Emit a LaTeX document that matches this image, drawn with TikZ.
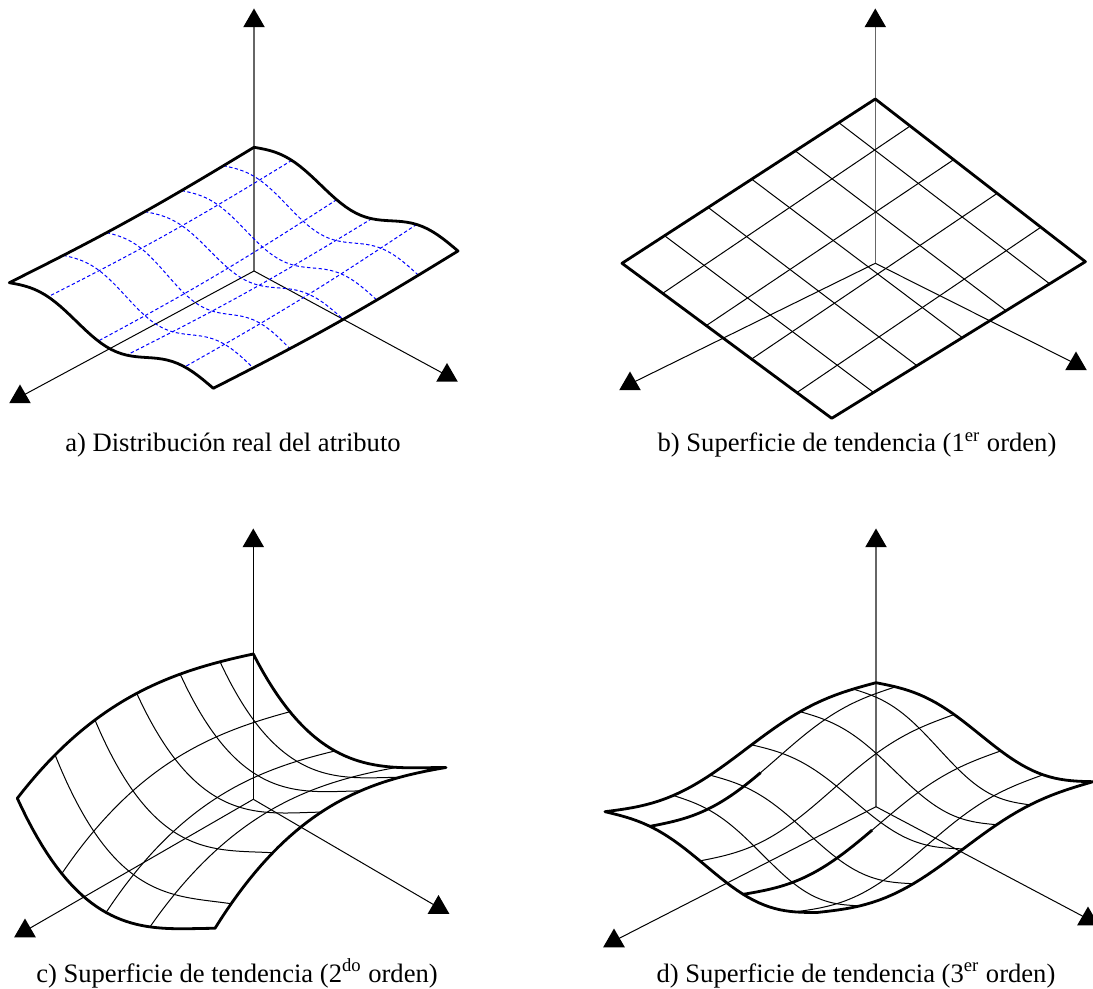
\documentclass[tikz,border=0pt]{standalone}
\usepackage{fontspec}
\setmainfont{Liberation Serif}
\usepackage{tikz}
\usetikzlibrary{shapes.geometric}

% contorno de la superficie (s: de B a L, t: de B a R)
\newcommand{\contorno}{%
    \draw[borde] plot[domain=0:1, samples=41, variable=\tv] ({sx(0,\tv)},{sy(0,\tv)})
        -- plot[domain=0:1, samples=41, variable=\sv] ({sx(\sv,1)},{sy(\sv,1)})
        -- plot[domain=1:0, samples=41, variable=\tv] ({sx(1,\tv)},{sy(1,\tv)})
        -- plot[domain=1:0, samples=41, variable=\sv] ({sx(\sv,0)},{sy(\sv,0)}) -- cycle;}

\begin{document}
\begin{tikzpicture}[
        x=0.5pt, y=-0.5pt,
        % Estilo para el borde de la superficie
        borde/.style={line width=1.4pt, line join=round},
        % Estilo para la malla
        malla/.style={line width=0.5pt},
        mallaazul/.style={line width=0.5pt, draw=blue, dash pattern=on 1.7pt off 1.2pt},
        % Estilo para los ejes
        eje/.style={line width=0.5pt},
        ejez/.style={line width=0.7pt, draw=black!60},
        punta/.style={regular polygon, regular polygon sides=3, fill=black,
            inner sep=0pt, minimum size=12.5pt},
        titulo/.style={anchor=base, font=\fontsize{13.3}{16}\selectfont},
        declare function={
            sx(\su,\tu)=\Bx+\su*(\Lx-\Bx)+\tu*(\Rx-\Bx)+\su*\tu*(\Fx-\Lx-\Rx+\Bx);
            sy(\su,\tu)=\By+\su*(\Ly-\By)+\tu*(\Ry-\By)+\su*\tu*(\Fy-\Ly-\Ry+\By)+dz(\su,\tu);
        }
    ]
    \useasboundingbox (0,0) rectangle (1093,989);

    % a) Distribución real del atributo
    \begin{scope}[declare function={dz(\su,\tu)=-9*sin(540*\tu)+5*sin(180*\tu)+4*sin(180*\su);}]
        \def\Bx{254}\def\By{147.3}\def\Lx{9.3}\def\Ly{282.7}
        \def\Rx{458}\def\Ry{251}\def\Fx{213.3}\def\Fy{388.3}
        \coordinate (aO) at (254,271);
        \coordinate (aZ) at (254,21);
        \coordinate (aX) at (20,397);
        \coordinate (aY) at (447,375.5);
        \draw[ejez] (aO) -- (aZ);
        \draw[eje] (aO) -- (aX);
        \draw[eje] (aO) -- (aY);
        \node[punta] (aZt) at (aZ) {};
        \node[punta] (aXt) at (aX) {};
        \node[punta] (aYt) at (aY) {};
        \foreach \sini/\sfin in {0.125/0.162, 0.296/0.332, 0.446/0.469, 0.602/0.687, 0.779/0.837}
            \draw[mallaazul] plot[domain=0:1, samples=31, smooth, variable=\tv]
                ({sx(\sini+(\sfin-\sini)*\tv,\tv)},{sy(\sini+(\sfin-\sini)*\tv,\tv)});
        \foreach \tini/\tfin in {0.185/0.19, 0.405/0.436, 0.577/0.575, 0.797/0.86}
            \draw[mallaazul] plot[domain=0:1, samples=31, smooth, variable=\sv]
                ({sx(\sv,\tini+(\tfin-\tini)*\sv)},{sy(\sv,\tini+(\tfin-\tini)*\sv)});
        \contorno
    \end{scope}
    \node[titulo] (capa) at (233,452) {a) Distribución real del atributo};

    % b) Superficie de 1er orden (plano)
    \begin{scope}[declare function={dz(\su,\tu)=0;}]
        \def\Bx{875.3}\def\By{99}\def\Lx{622}\def\Ly{263.3}
        \def\Rx{1085.4}\def\Ry{261.7}\def\Fx{831.7}\def\Fy{418.3}
        \coordinate (bO) at (875.3,263.3);
        \coordinate (bZ) at (875.3,21);
        \coordinate (bX) at (630,384);
        \coordinate (bY) at (1076,364);
        \draw[ejez] (bO) -- (bZ);
        \draw[eje] (bO) -- (bX);
        \draw[eje] (bO) -- (bY);
        \node[punta] (bZt) at (bZ) {};
        \node[punta] (bXt) at (bX) {};
        \node[punta] (bYt) at (bY) {};
        \foreach \sini/\sfin in {0.144/0.141, 0.316/0.313, 0.488/0.485, 0.66/0.664, 0.832/0.835}
            \draw[malla] plot[domain=0:1, samples=2, variable=\tv]
                ({sx(\sini+(\sfin-\sini)*\tv,\tv)},{sy(\sini+(\sfin-\sini)*\tv,\tv)});
        \foreach \tini/\tfin in {0.166/0.194, 0.373/0.402, 0.58/0.618, 0.788/0.834}
            \draw[malla] plot[domain=0:1, samples=2, variable=\sv]
                ({sx(\sv,\tini+(\tfin-\tini)*\sv)},{sy(\sv,\tini+(\tfin-\tini)*\sv)});
        \contorno
    \end{scope}
    \node[titulo] (capb) at (857,452) {b) Superficie de tendencia (1\textsuperscript{er} orden)};

    % c) Superficie de 2do orden
    \begin{scope}[declare function={dz(\su,\tu)=(1+0.15*\su)*(150*\tu*(1-\tu)^2+113.5*\tu*(1-\tu))
            -(1+0.3*\tu)*(94*\su*(1-\su)+68*\su^2*(1-\su));}]
        \def\Bx{253.3}\def\By{654}\def\Lx{17.3}\def\Ly{798.3}
        \def\Rx{446}\def\Ry{767.5}\def\Fx{215}\def\Fy{928.3}
        \coordinate (cO) at (253.3,799.3);
        \coordinate (cZ) at (253.3,541);
        \coordinate (cX) at (25,931);
        \coordinate (cY) at (438.5,907.5);
        \draw[eje] (cO) -- (cZ);
        \draw[eje] (cO) -- (cX);
        \draw[eje] (cO) -- (cY);
        \node[punta] (cZt) at (cZ) {};
        \node[punta] (cXt) at (cX) {};
        \node[punta] (cYt) at (cY) {};
        \foreach \sini/\sfin in {0.141/0.2, 0.31/0.37, 0.494/0.54, 0.671/0.75, 0.84/0.93}
            \draw[malla] plot[domain=0:1, samples=31, smooth, variable=\tv]
                ({sx(\sini+(\sfin-\sini)*\tv,\tv)},{sy(\sini+(\sfin-\sini)*\tv,\tv)});
        \foreach \tini/\tfin in {0.19/0.225, 0.424/0.449, 0.744/0.671}
            \draw[malla] plot[domain=0:1, samples=31, smooth, variable=\sv]
                ({sx(\sv,\tini+(\tfin-\tini)*\sv)},{sy(\sv,\tini+(\tfin-\tini)*\sv)});
        \contorno
    \end{scope}
    \node[titulo] (capc) at (237,982) {c) Superficie de tendencia (2\textsuperscript{do} orden)};

    % d) Superficie de 3er orden
    \begin{scope}[declare function={dz(\su,\tu)=-12*sin(360*\su)-12*sin(360*\tu)
            +6*sin(180*\su)*(1-\tu)+6*sin(180*\tu)*(1-\su)+8*sin(180*\su)*\tu+8*sin(180*\tu)*\su;}]
        \def\Bx{876}\def\By{682.7}\def\Lx{605}\def\Ly{811.7}
        \def\Rx{1093}\def\Ry{781.7}\def\Fx{817}\def\Fy{912.5}
        \coordinate (dO) at (876,806.7);
        \coordinate (dZ) at (876,541);
        \coordinate (dX) at (614,941);
        \coordinate (dY) at (1088,919);
        \draw[ejez] (dO) -- (dZ);
        \draw[eje] (dO) -- (dX);
        \draw[eje] (dO) -- (dY);
        \node[punta] (dZt) at (dZ) {};
        \node[punta] (dXt) at (dX) {};
        \node[punta] (dYt) at (dY) {};
        \foreach \sini/\sfin in {0.084/0.228, 0.28/0.349, 0.459/0.47, 0.6125/0.651, 0.748/0.844}
            \draw[malla] plot[domain=0:1, samples=31, smooth, variable=\tv]
                ({sx(\sini+(\sfin-\sini)*\tv,\tv)},{sy(\sini+(\sfin-\sini)*\tv,\tv)});
        \foreach \tini/\tfin in {0.09/0.212, 0.36/0.448, 0.575/0.652, 0.77/0.896}
            \draw[malla] plot[domain=0:1, samples=31, smooth, variable=\sv]
                ({sx(\sv,\tini+(\tfin-\tini)*\sv)},{sy(\sv,\tini+(\tfin-\tini)*\sv)});
        % tramos gruesos de la malla
        \foreach \tini/\tfin/\sdesde in {0.09/0.212/0.55, 0.575/0.652/0.5}
            \draw[borde] plot[domain=\sdesde:1, samples=21, smooth, variable=\sv]
                ({sx(\sv,\tini+(\tfin-\tini)*\sv)},{sy(\sv,\tini+(\tfin-\tini)*\sv)});
        \contorno
    \end{scope}
    \node[titulo] (capd) at (856,982) {d) Superficie de tendencia (3\textsuperscript{er} orden)};

\end{tikzpicture}
\end{document}
